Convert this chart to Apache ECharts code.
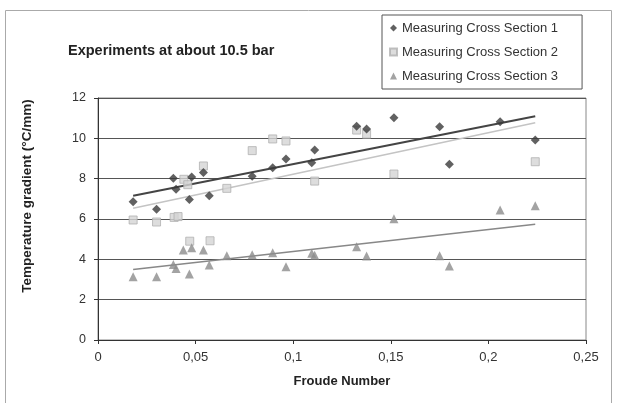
<!DOCTYPE html>
<html>
<head>
<meta charset="utf-8">
<script src="https://cdn.jsdelivr.net/npm/echarts@6/dist/echarts.min.js"></script>
<style>
html,body{margin:0;padding:0;background:#fff;}
#c{width:618px;height:403px;}
</style>
</head>
<body>
<div id="c"></div>
<script>
const titleText = 'Experiments at about 10.5 bar';
const xName = 'Froude Number';
const yName = 'Temperature gradient (°C/mm)';
const seriesNames = ['Measuring Cross Section 1', 'Measuring Cross Section 2', 'Measuring Cross Section 3'];
const xTicks = [0, 0.05, 0.1, 0.15, 0.2, 0.25];
const xTickLabels = ['0', '0,05', '0,1', '0,15', '0,2', '0,25'];
const yTicks = [0, 2, 4, 6, 8, 10, 12];

const section1 = [
  [0.018, 6.86], [0.030, 6.48], [0.0386, 8.02], [0.040, 7.47], [0.0468, 6.97],
  [0.048, 8.08], [0.054, 8.3], [0.057, 7.15], [0.079, 8.12], [0.0895, 8.54],
  [0.0963, 8.97], [0.1095, 8.79], [0.111, 9.42], [0.1325, 10.6], [0.1376, 10.46],
  [0.1516, 11.02], [0.175, 10.58], [0.180, 8.72], [0.206, 10.82], [0.224, 9.92]
];
const section2 = [
  [0.018, 5.95], [0.030, 5.85], [0.039, 6.08], [0.041, 6.12], [0.044, 7.97],
  [0.046, 7.7], [0.047, 4.9], [0.054, 8.63], [0.0574, 4.92], [0.066, 7.52],
  [0.079, 9.39], [0.0895, 9.97], [0.0963, 9.87], [0.111, 7.88], [0.1325, 10.41],
  [0.1376, 10.21], [0.1516, 8.23], [0.224, 8.84]
];
const section3 = [
  [0.018, 3.14], [0.030, 3.14], [0.0386, 3.75], [0.040, 3.55], [0.0437, 4.46],
  [0.048, 4.58], [0.0468, 3.27], [0.054, 4.46], [0.057, 3.72], [0.066, 4.18],
  [0.079, 4.23], [0.0895, 4.33], [0.0963, 3.63], [0.1095, 4.3], [0.111, 4.2],
  [0.1325, 4.63], [0.1376, 4.16], [0.1516, 6.01], [0.175, 4.18], [0.180, 3.67],
  [0.206, 6.45], [0.224, 6.66]
];
const trend1 = [[0.018, 7.15], [0.224, 11.1]];
const trend2 = [[0.018, 6.53], [0.224, 10.77]];
const trend3 = [[0.018, 3.5], [0.224, 5.74]];

const chart = echarts.init(document.getElementById('c'), null, {renderer: 'canvas'});
const font = 'Liberation Sans, Arial, sans-serif';
chart.setOption({
  animation: false,
  backgroundColor: '#fff',
  textStyle: {fontFamily: font},
  title: {
    text: titleText, left: 68, top: 43, padding: 0,
    textStyle: {fontSize: 14.5, fontWeight: 'bold', color: '#222', fontFamily: font}
  },
  graphic: [{
    type: 'rect', left: 3, top: 8, silent: true,
    shape: {width: 606, height: 400},
    style: {fill: 'none', stroke: '#aaa', lineWidth: 1}
  }, {
    type: 'text', silent: true,
    x: 27, y: 196, rotation: Math.PI / 2,
    style: {text: yName, fontSize: 13.5, fontWeight: 'bold', fill: '#222', fontFamily: font,
      align: 'center', verticalAlign: 'middle'}
  }],
  legend: {
    data: seriesNames,
    orient: 'vertical',
    left: 382, top: 15,
    padding: [5, 24, 5, 7],
    itemWidth: 7, itemHeight: 7, itemGap: 8,
    borderColor: '#555', borderWidth: 1,
    textStyle: {fontSize: 13, color: '#333', lineHeight: 16, fontFamily: font}
  },
  grid: {left: 98, right: 32, top: 98, bottom: 63, show: true, borderColor: '#888', borderWidth: 1},
  xAxis: {
    type: 'value', min: 0, max: 0.25, interval: 0.05,
    name: xName, nameLocation: 'middle', nameGap: 35,
    nameTextStyle: {fontSize: 13, fontWeight: 'bold', color: '#222', fontFamily: font},
    axisLine: {lineStyle: {color: '#333'}},
    axisTick: {show: true, length: 4, lineStyle: {color: '#333'}},
    splitLine: {show: false},
    axisLabel: {
      fontSize: 13, color: '#333', margin: 11,
      formatter: v => { const i = xTicks.findIndex(t => Math.abs(t - v) < 1e-9); return i >= 0 ? xTickLabels[i] : ''; }
    }
  },
  yAxis: {
    type: 'value', min: yTicks[0], max: yTicks[yTicks.length - 1], interval: 2,
    axisLine: {show: true, lineStyle: {color: '#333'}},
    axisTick: {show: true, length: 4, lineStyle: {color: '#333'}},
    splitLine: {show: true, lineStyle: {color: '#555', width: 1}},
    axisLabel: {fontSize: 12.5, color: '#333', margin: 12}
  },
  series: [
    {name: 'trend1', type: 'line', data: trend1, symbol: 'none', lineStyle: {color: '#444', width: 2}, z: 1},
    {name: 'trend2', type: 'line', data: trend2, symbol: 'none', lineStyle: {color: '#c4c4c4', width: 1.5}, z: 1},
    {name: 'trend3', type: 'line', data: trend3, symbol: 'none', lineStyle: {color: '#888', width: 1.5}, z: 1},
    {name: seriesNames[0], type: 'scatter', data: section1, symbol: 'diamond', symbolSize: 9,
      itemStyle: {color: '#3a3a3a'}, z: 3},
    {name: seriesNames[1], type: 'scatter', data: section2, symbol: 'rect', symbolSize: 8,
      itemStyle: {color: '#d4d4d4', borderColor: '#b0b0b0', borderWidth: 1}, z: 2},
    {name: seriesNames[2], type: 'scatter', data: section3, symbol: 'triangle', symbolSize: 9,
      itemStyle: {color: '#8c8c8c'}, z: 2}
  ]
});
</script>
</body>
</html>
